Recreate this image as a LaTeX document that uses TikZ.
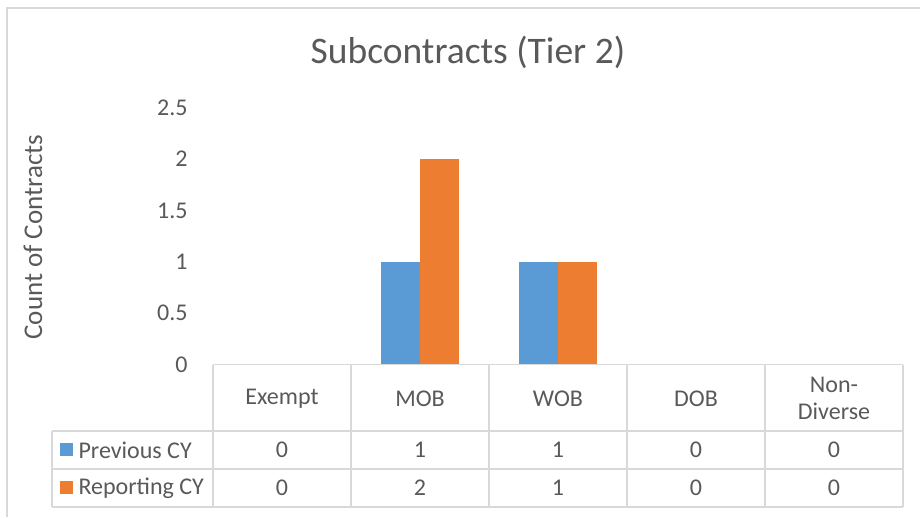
\documentclass[tikz,border=0pt]{standalone}
\usepackage{fontspec}
\setmainfont{Carlito}
\definecolor{prevblue}{HTML}{5B9BD5}
\definecolor{reporange}{HTML}{ED7D31}
\definecolor{labelgray}{HTML}{595959}
\definecolor{gridgray}{HTML}{D9D9D9}
\tikzset{
  tablerule/.style={draw=gridgray, line width=1.5pt},
  cellnode/.style={align=center, font=\fontsize{24}{27}\selectfont},
}
\begin{document}
\begin{tikzpicture}[x=1pt, y=1pt, every node/.style={font=\fontsize{24}{27}\selectfont, text=labelgray}]
  \useasboundingbox (0,0) rectangle (920,517);
  % Chart frame (cut at the right and bottom)
  \draw[tablerule] (7,0) -- (7,509) -- (920,509);
  % Title and axis title
  \node[font=\fontsize{37.5}{43}\selectfont] (title) at (468,465) {Subcontracts (Tier 2)};
  \node[rotate=90, font=\fontsize{27}{32}\selectfont] (ytitle) at (33,280) {Count of Contracts};
  % Tick labels
  \foreach \v [count=\k] in {0,0.5,1,1.5,2,2.5} {
    \node[anchor=east] (tick\k) at (191,152.5+102.7*\v) {\v};
  }
  % Bars and column labels
  \foreach \c/\p/\r [count=\k from 0] in {Exempt/0/0, MOB/1/2, WOB/1/1, DOB/0/0, {Non-\\Diverse}/0/0} {
    \ifnum\p>0 \fill[prevblue] (243+138*\k,152.5) rectangle (282+138*\k,152.5+102.7*\p); \fi
    \ifnum\r>0 \fill[reporange] (282+138*\k,152.5) rectangle (321+138*\k,152.5+102.7*\r); \fi
    \node[cellnode] (cat\k) at (282+138*\k,118.5) {\c};
    \node[cellnode] (prev\k) at (282+138*\k,67) {\p};
    \node[cellnode] (rep\k) at (282+138*\k,29) {\r};
  }
  % Data table grid
  \draw[tablerule] (213,152.5) -- (903,152.5);
  \foreach \y in {86,48,10} {
    \draw[tablerule] (52,\y) -- (903,\y);
  }
  \draw[tablerule] (52,86) -- (52,10);
  \foreach \x in {213,351,489,627,765,903} {
    \draw[tablerule] (\x,152.5) -- (\x,10);
  }
  % Legend keys
  \fill[prevblue] (60,61) rectangle (73,74);
  \node[anchor=west] (prevkey) at (75,67) {Previous CY};
  \fill[reporange] (60,23) rectangle (73,36);
  \node[anchor=west] (repkey) at (75,29) {Reporting CY};
\end{tikzpicture}
\end{document}
